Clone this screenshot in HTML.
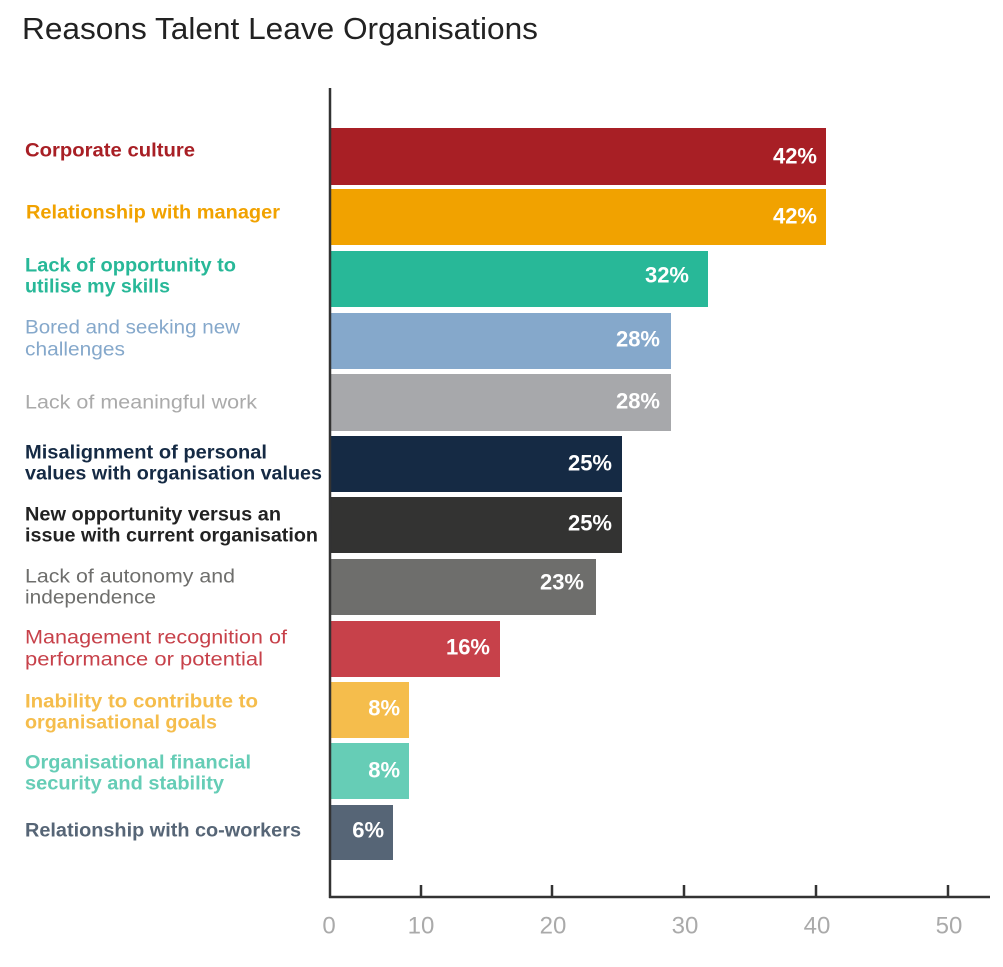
<!DOCTYPE html>
<html><head><meta charset="utf-8"><style>
html,body{margin:0;padding:0;background:#fff;}
svg{display:block;font-family:"Liberation Sans",sans-serif;}
</style></head><body>
<svg width="1003" height="967" viewBox="0 0 1003 967">
<text x="22" y="39" font-size="31" fill="#222" textLength="516" lengthAdjust="spacingAndGlyphs">Reasons Talent Leave Organisations</text>
<g>
<rect x="330" y="128" width="496" height="57" fill="#a81f25"/>
<rect x="330" y="189" width="496" height="56" fill="#f1a200"/>
<rect x="330" y="251" width="378" height="56" fill="#28b898"/>
<rect x="330" y="313" width="341" height="56" fill="#85a8cb"/>
<rect x="330" y="374" width="341" height="57" fill="#a7a8ab"/>
<rect x="330" y="436" width="292" height="56" fill="#152a44"/>
<rect x="330" y="497" width="292" height="56" fill="#333332"/>
<rect x="330" y="559" width="266" height="56" fill="#6e6e6c"/>
<rect x="330" y="621" width="170" height="56" fill="#c7414a"/>
<rect x="330" y="682" width="79" height="56" fill="#f5bd4c"/>
<rect x="330" y="743" width="79" height="56" fill="#66cdb6"/>
<rect x="330" y="805" width="63" height="55" fill="#566576"/>
</g>
<g font-size="22" font-weight="bold" fill="#fff" text-anchor="end" dominant-baseline="central">
<text x="817" y="156">42%</text>
<text x="817" y="216">42%</text>
<text x="689" y="275">32%</text>
<text x="660" y="339">28%</text>
<text x="660" y="401">28%</text>
<text x="612" y="463">25%</text>
<text x="612" y="523">25%</text>
<text x="584" y="582">23%</text>
<text x="490" y="647">16%</text>
<text x="400" y="708">8%</text>
<text x="400" y="770">8%</text>
<text x="384" y="830">6%</text>
</g>
<g font-size="19" font-weight="bold" dominant-baseline="central">
<text x="25" y="151" fill="#a81f25" textLength="170" lengthAdjust="spacingAndGlyphs">Corporate culture</text>
<text x="26" y="213" fill="#f1a200" textLength="254" lengthAdjust="spacingAndGlyphs">Relationship with manager</text>
<text x="25" y="266" fill="#28b898" textLength="211" lengthAdjust="spacingAndGlyphs">Lack of opportunity to</text>
<text x="25" y="287" fill="#28b898" textLength="145" lengthAdjust="spacingAndGlyphs">utilise my skills</text>
<text x="25" y="328" fill="#85a8cb" font-weight="normal" textLength="215" lengthAdjust="spacingAndGlyphs">Bored and seeking new</text>
<text x="25" y="350" fill="#85a8cb" font-weight="normal" textLength="100" lengthAdjust="spacingAndGlyphs">challenges</text>
<text x="25" y="403" fill="#aaaaaa" font-weight="normal" textLength="232" lengthAdjust="spacingAndGlyphs">Lack of meaningful work</text>
<text x="25" y="453" fill="#152a44" textLength="242" lengthAdjust="spacingAndGlyphs">Misalignment of personal</text>
<text x="25" y="474" fill="#152a44" textLength="297" lengthAdjust="spacingAndGlyphs">values with organisation values</text>
<text x="25" y="515" fill="#222" textLength="256" lengthAdjust="spacingAndGlyphs">New opportunity versus an</text>
<text x="25" y="536" fill="#222" textLength="293" lengthAdjust="spacingAndGlyphs">issue with current organisation</text>
<text x="25" y="577" fill="#6e6e6c" font-weight="normal" textLength="210" lengthAdjust="spacingAndGlyphs">Lack of autonomy and</text>
<text x="25" y="598" fill="#6e6e6c" font-weight="normal" textLength="131" lengthAdjust="spacingAndGlyphs">independence</text>
<text x="25" y="638" fill="#c7414a" font-weight="normal" textLength="262" lengthAdjust="spacingAndGlyphs">Management recognition of</text>
<text x="25" y="660" fill="#c7414a" font-weight="normal" textLength="238" lengthAdjust="spacingAndGlyphs">performance or potential</text>
<text x="25" y="702" fill="#f5bd4c" textLength="233" lengthAdjust="spacingAndGlyphs">Inability to contribute to</text>
<text x="25" y="723" fill="#f5bd4c" textLength="192" lengthAdjust="spacingAndGlyphs">organisational goals</text>
<text x="25" y="763" fill="#66cdb6" textLength="226" lengthAdjust="spacingAndGlyphs">Organisational financial</text>
<text x="25" y="784" fill="#66cdb6" textLength="199" lengthAdjust="spacingAndGlyphs">security and stability</text>
<text x="25" y="831" fill="#566576" textLength="276" lengthAdjust="spacingAndGlyphs">Relationship with co-workers</text>
</g>
<g stroke="#333" stroke-width="2.5">
<line x1="330" y1="88" x2="330" y2="898"/>
<line x1="329" y1="897" x2="990" y2="897"/>
<line x1="421" y1="885" x2="421" y2="897"/>
<line x1="552" y1="885" x2="552" y2="897"/>
<line x1="684" y1="885" x2="684" y2="897"/>
<line x1="816" y1="885" x2="816" y2="897"/>
<line x1="948" y1="885" x2="948" y2="897"/>
</g>
<g font-size="24" fill="#aaa" text-anchor="middle" dominant-baseline="central">
<text x="329" y="926">0</text>
<text x="421" y="926">10</text>
<text x="553" y="926">20</text>
<text x="685" y="926">30</text>
<text x="817" y="926">40</text>
<text x="949" y="926">50</text>
</g>
</svg>
</body></html>
